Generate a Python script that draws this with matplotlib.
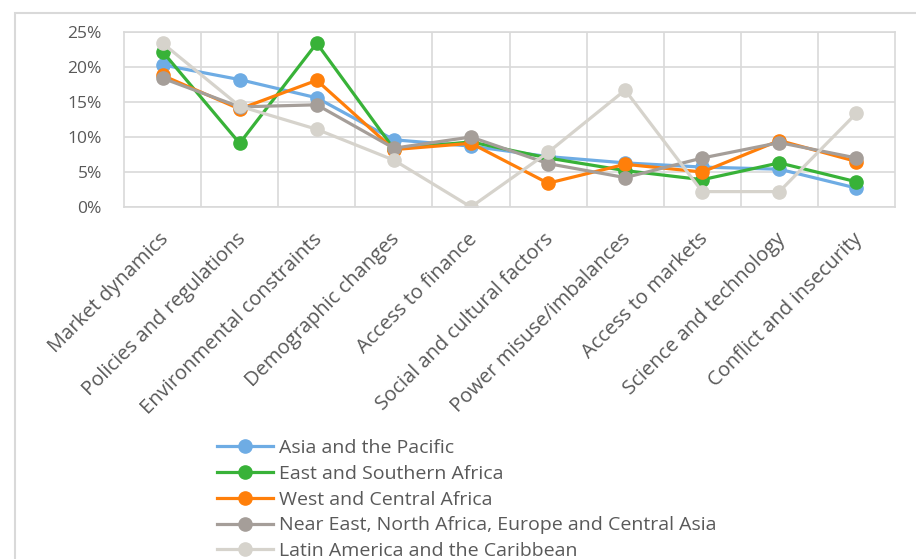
import matplotlib
matplotlib.use('Agg')
import matplotlib.pyplot as plt
import matplotlib.transforms as mtransforms
from matplotlib.patches import Rectangle
from matplotlib.ticker import FuncFormatter

plt.rcParams['font.family'] = ['Open Sans', 'DejaVu Sans']

categories = ['Market dynamics', 'Policies and regulations', 'Environmental constraints',
              'Demographic changes', 'Access to finance', 'Social and cultural factors',
              'Power misuse/imbalances', 'Access to markets', 'Science and technology',
              'Conflict and insecurity']

asia_pacific = [20.3, 18.2, 15.6, 9.6, 8.7, 7.2, 6.3, 5.7, 5.4, 2.7]
east_southern_africa = [22.2, 9.1, 23.4, 8.3, 9.3, 7.0, 5.2, 3.9, 6.3, 3.6]
west_central_africa = [18.8, 14.0, 18.1, 8.2, 9.1, 3.4, 6.1, 5.0, 9.5, 6.5]
near_east = [18.4, 14.3, 14.6, 8.4, 10.0, 6.2, 4.2, 7.0, 9.2, 7.0]
latin_america = [23.4, 14.4, 11.1, 6.7, 0.0, 7.8, 16.7, 2.2, 2.2, 13.4]

series = [
    ('Asia and the Pacific', asia_pacific, '#6EACE4'),
    ('East and Southern Africa', east_southern_africa, '#38B238'),
    ('West and Central Africa', west_central_africa, '#FF7F0A'),
    ('Near East, North Africa, Europe and Central Asia', near_east, '#A59E99'),
    ('Latin America and the Caribbean', latin_america, '#D6D3CC'),
]

W, H = 916, 559
fig = plt.figure(figsize=(W / 100, H / 100), dpi=100)
ax = fig.add_axes([124 / W, 1 - 207 / H, 771 / W, 175 / H])

x = range(len(categories))
for name, vals, col in series:
    ax.plot(x, vals, color=col, lw=2.3, marker='o', markersize=9.5, label=name)

ax.set_xlim(-0.5, len(categories) - 0.5)
ax.set_ylim(0, 25)
ax.set_yticks([0, 5, 10, 15, 20, 25])
ax.yaxis.set_major_formatter(FuncFormatter(lambda v, p: f'{int(v)}%'))

# grid: horizontal at ticks, vertical at category boundaries
ax.set_xticks([i + 0.5 for i in range(len(categories) - 1)], minor=True)
ax.grid(True, which='major', axis='y', color='#D9D9D9', lw=1.2)
ax.grid(True, which='minor', axis='x', color='#D9D9D9', lw=1.2)
ax.set_axisbelow(True)
for s in ax.spines.values():
    s.set_color('#D9D9D9')
    s.set_linewidth(1.2)

ax.set_xticks(list(x))
ax.set_xticklabels(categories, rotation=45, ha='right', va='top', rotation_mode='anchor')
ax.tick_params(axis='both', which='both', length=0, labelcolor='#595959')
ax.tick_params(axis='y', labelsize=12.5, pad=16)
ax.tick_params(axis='x', labelsize=14.5, pad=16)
offset = mtransforms.ScaledTranslation(-3 / 72, 0, fig.dpi_scale_trans)
for lab in ax.get_xticklabels():
    lab.set_transform(lab.get_transform() + offset)

# chart-area frame
fig.add_artist(Rectangle((15 / W, -0.2), 2, 1.2 - 13 / H, transform=fig.transFigure,
                         fill=False, edgecolor='#D9D9D9', lw=1.5))

fig.legend(loc='upper left', bbox_to_anchor=(217 / W, 1 - 439 / H), frameon=False,
           fontsize=14, labelcolor='#595959', handlelength=2.9, handletextpad=0.3,
           labelspacing=0.4, borderpad=0, borderaxespad=0)

fig.savefig('out.png', dpi=100)
